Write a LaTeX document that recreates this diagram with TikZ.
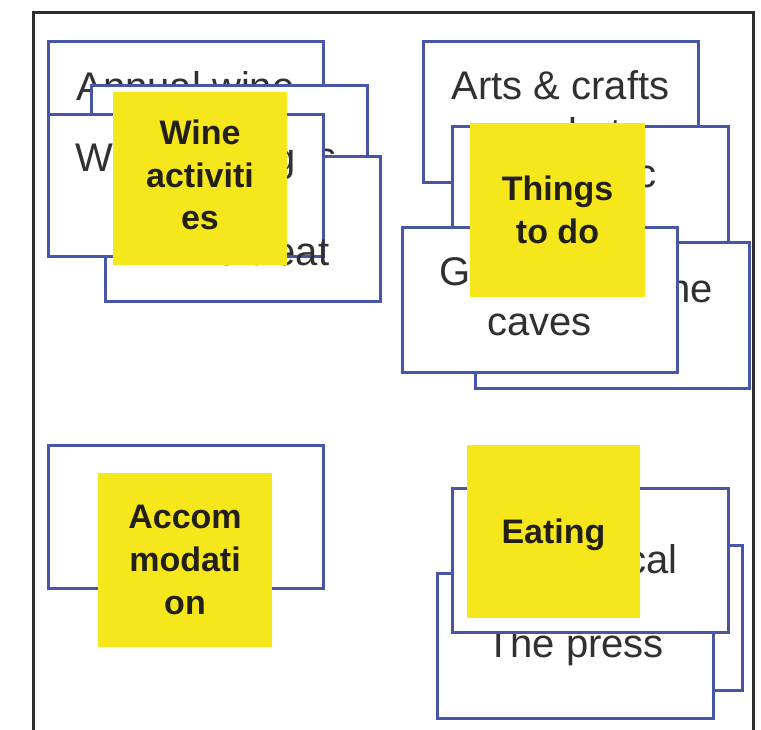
\documentclass[tikz,border=0pt]{standalone}
\usepackage{fontspec}
\setmainfont{Liberation Sans}
\newfontfamily\cardfam{Liberation Sans}
\definecolor{cardblue}{RGB}{72,86,168}
\definecolor{noteyellow}{RGB}{246,231,28}
\definecolor{textgrey}{RGB}{48,48,48}
\definecolor{notetext}{RGB}{34,32,20}
\definecolor{framegrey}{RGB}{45,45,45}
\tikzset{
  card/.style={draw=cardblue, line width=3pt, fill=white, inner sep=0pt, outer sep=0pt,
    minimum width=275pt, minimum height=144pt, anchor=north west},
  note/.style={fill=noteyellow, inner sep=0pt, outer sep=0pt,
    minimum width=174pt, minimum height=173pt, anchor=north west},
  ctext/.style={anchor=base, inner sep=0pt, text=textgrey,
    font={\cardfam\fontsize{40}{48}\selectfont}},
  ntext/.style={anchor=base, inner sep=0pt, text=notetext,
    font={\cardfam\bfseries\fontsize{34}{42}\selectfont}},
  frameline/.style={draw=framegrey, line width=3pt}
}
\begin{document}
\begin{tikzpicture}[x=1pt,y=-1pt]
\useasboundingbox (0,0) rectangle (761,730);
\fill[white] (0,0) rectangle (761,730);
% frame
\coordinate (fbl) at (33,730);
\coordinate (ftl) at (33,13);
\coordinate (ftr) at (753,13);
\coordinate (fbr) at (753,730);
\draw[frameline] (fbl) -- (ftl) -- (ftr) -- (fbr);

% ---------- top-left group ----------
\node[card, minimum height=145pt] (A) at (48,42) {};
\node[ctext] (tA1) at (185.5,101) {Annual wine};
\node[card, minimum width=276pt] (B) at (91,86) {};
\node[ctext] (tB) at (229,171) {Cellar doors};
\node[card, minimum height=145pt] (D) at (105,157) {};
\node[card, minimum height=142pt] (C) at (48,115) {};
\node[ctext] (tC1) at (185.5,172) {Wine tasting};
\node[ctext] (tD2) at (242.5,266) {wine treat};
\node[note] (Y1) at (113,92) {};
\node[ntext] (y1a) at (200,145) {Wine};
\node[ntext] (y1b) at (200,188) {activiti};
\node[ntext] (y1c) at (200,230) {es};

% ---------- top-right group ----------
\node[card, minimum height=141pt] (E) at (423,42) {};
\node[ctext] (tE1) at (560.5,100) {Arts \& crafts};
\node[ctext] (tE2) at (560.5,147) {market};
\node[card, minimum width=276pt, minimum height=145pt] (F) at (452,127) {};
\node[ctext] (tF1) at (590,188) {Historic};
\node[card, minimum width=274pt, minimum height=145pt] (G) at (475,243) {};
\node[ctext] (tG1) at (612,302) {Explore the};
\node[card] (H) at (402,228) {};
\node[ctext] (tH1) at (539.5,286) {Glow worm};
\node[ctext] (tH2) at (539.5,336) {caves};
\node[note, minimum width=175pt, minimum height=174pt] (Y2) at (470,123) {};
\node[ntext] (y2a) at (557.5,201) {Things};
\node[ntext] (y2b) at (557.5,244) {to do};

% ---------- bottom-left group ----------
\node[card, minimum height=143pt] (I) at (48,445) {};
\node[note, minimum height=174pt] (Y3) at (98,473) {};
\node[ntext] (y3a) at (185,528) {Accom};
\node[ntext] (y3b) at (185,571) {modati};
\node[ntext] (y3c) at (185,614) {on};

% ---------- bottom-right group ----------
\node[card, minimum height=145pt] (K) at (467,545) {};
\node[card, minimum width=276pt, minimum height=145pt] (L) at (437,573) {};
\node[ctext] (tL) at (575,657) {The press};
\node[card, minimum width=276pt] (J) at (452,488) {};
\node[ctext] (tJ) at (590,573) {Dine local};
\node[note, minimum width=173pt] (Y4) at (467,445) {};
\node[ntext] (y4a) at (553.5,543) {Eating};
\end{tikzpicture}
\end{document}
